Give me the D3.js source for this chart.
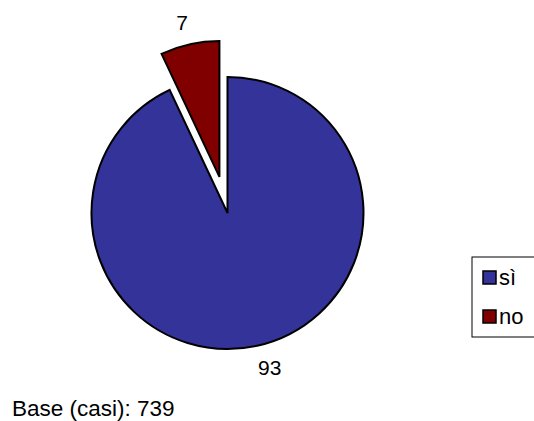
<!DOCTYPE html>
<html>
<head>
<meta charset="utf-8">
<script src="https://cdn.jsdelivr.net/npm/d3@7"></script>
<style>
  body { margin: 0; background: #fff; }
  text { font-family: Arial, "Liberation Sans", sans-serif; fill: #000; }
</style>
</head>
<body>
<svg width="534" height="421"></svg>
<script>
const width = 534;
const height = 421;

const categories = ["sì", "no"];
const values = [93, 7];
const colors = ["#333399", "#800000"];
const exploded = [false, true];
const baseCases = 739;

const svg = d3.select("svg");

const cx = 227.5, cy = 213, radius = 136;
const explode = 37;
const labelDist = 158;

const pie = d3.pie().sort(null).value(d => d.value);
const arc = d3.arc().innerRadius(0).outerRadius(radius);

const data = categories.map((c, i) => ({ name: c, value: values[i], color: colors[i], exploded: exploded[i] }));
const arcs = pie(data);

function offsetOf(d) {
    const mid = (d.startAngle + d.endAngle) / 2;
    const k = d.data.exploded ? explode : 0;
    return [Math.sin(mid) * k, -Math.cos(mid) * k];
}

const g = svg.append("g").attr("transform", `translate(${cx},${cy})`);

g.selectAll("path")
    .data(arcs)
    .enter().append("path")
    .attr("d", arc)
    .attr("transform", d => `translate(${offsetOf(d)})`)
    .attr("fill", d => d.data.color)
    .attr("stroke", "#000")
    .attr("stroke-width", 2)
    .attr("stroke-linejoin", "miter");

// slice labels
g.selectAll("text.label")
    .data(arcs)
    .enter().append("text")
    .attr("class", "label")
    .attr("x", d => {
        const mid = (d.startAngle + d.endAngle) / 2;
        return offsetOf(d)[0] + Math.sin(mid) * labelDist + (Math.sin(mid) < 0 ? 3 : -4);
    })
    .attr("y", d => {
        const mid = (d.startAngle + d.endAngle) / 2;
        return offsetOf(d)[1] - Math.cos(mid) * labelDist;
    })
    .attr("text-anchor", d => Math.sin((d.startAngle + d.endAngle) / 2) < 0 ? "end" : "start")
    .attr("dominant-baseline", "central")
    .style("font-size", "21px")
    .text(d => d.data.value);

// legend
const legend = svg.append("g").attr("transform", "translate(472,257)");
legend.append("rect")
    .attr("x", 0).attr("y", 0)
    .attr("width", 80).attr("height", 80)
    .attr("fill", "#fff")
    .attr("stroke", "#000")
    .attr("stroke-width", 1);

const item = legend.selectAll("g.item")
    .data(data)
    .enter().append("g")
    .attr("class", "item")
    .attr("transform", (d, i) => `translate(11,${14 + i * 39})`);

item.append("rect")
    .attr("width", 13).attr("height", 13)
    .attr("fill", d => d.color)
    .attr("stroke", "#000")
    .attr("stroke-width", 1.5);

item.append("text")
    .attr("x", 16)
    .attr("y", 14)
    .style("font-size", "22px")
    .text(d => d.name);

svg.append("text")
    .attr("x", 12)
    .attr("y", 416)
    .style("font-size", "22.5px")
    .text("Base (casi): " + baseCases);
</script>
</body>
</html>
